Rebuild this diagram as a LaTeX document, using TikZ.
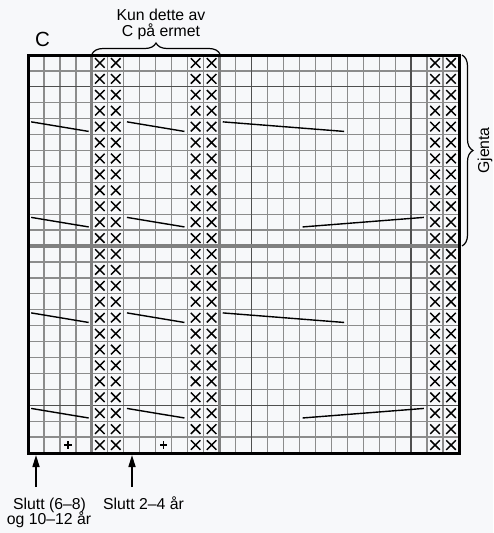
\documentclass[tikz,border=0pt]{standalone}
\usepackage{fontspec}
\setmainfont{Liberation Sans}
\usetikzlibrary{arrows.meta,decorations.pathreplacing}
\definecolor{bg}{RGB}{247,248,250}
\definecolor{thinc}{RGB}{140,140,140}
\definecolor{darkc}{RGB}{80,80,80}
\definecolor{thickc}{RGB}{128,128,128}
\begin{document}
\begin{tikzpicture}[x=1pt,y=-1pt,
 thinline/.style={draw=thinc,line width=1.3pt},
 darkline/.style={draw=darkc,line width=1.3pt},
 thickline/.style={draw=thickc,line width=3.2pt},
 border/.style={draw=black,line width=3pt,line join=miter},
 xmark/.style={draw=black,line width=1.45pt},
 plusmark/.style={draw=black,line width=1.6pt},
 slant/.style={draw=black,line width=1.4pt},
 lbl/.style={font=\fontsize{15.8}{16}\selectfont,inner sep=0pt},
 arr/.style={draw=black,line width=1.6pt,-{Triangle[width=7pt,length=12pt]}},
 bracestyle/.style={draw=black,line width=1.2pt,decorate,decoration={brace,amplitude=11pt}}]
\fill[bg] (0,0) rectangle (493,533);
\useasboundingbox (0,0) rectangle (493,533);
\begin{scope}[shift={(28,55)},x=15.963pt,y=-15.92pt]
 \foreach \i in {1,...,26} \draw[thinline] (\i,0) -- (\i,25);
 \foreach \j in {1,...,24} \draw[thinline] (0,\j) -- (27,\j);
 \foreach \i in {14,24} \draw[darkline] (\i,0) -- (\i,25);
 \foreach \j in {2,22} \draw[darkline] (0,\j) -- (27,\j);
 \draw[thickline] (0,12) -- (27,12);
 \foreach \i in {4,12} \draw[thickline] (\i,0) -- (\i,25);
 \foreach \c in {4,5,10,11,25,26} \foreach \r in {0,...,24} {
   \draw[xmark] (\c+0.2,\r+0.2) -- (\c+0.8,\r+0.8) (\c+0.2,\r+0.8) -- (\c+0.8,\r+0.2);
 }
 \foreach \c in {2,8} \draw[plusmark] (\c+0.27,24.5) -- (\c+0.73,24.5) (\c+0.5,24.27) -- (\c+0.5,24.73);
 \foreach \r in {4,10,16,22} {
   \draw[slant] (0.2,\r+0.2) -- (3.8,\r+0.8);
   \draw[slant] (6.2,\r+0.2) -- (9.8,\r+0.8);
 }
 \foreach \r in {4,16} \draw[slant] (12.2,\r+0.2) -- (19.8,\r+0.8);
 \foreach \r in {10,22} \draw[slant] (17.2,\r+0.8) -- (24.8,\r+0.2);
 \draw[border] (0,0) rectangle (27,25);
\end{scope}
\coordinate (tb1) at (92,54);
\coordinate (tb2) at (220,54);
\draw[bracestyle] (tb1) -- (tb2);
\coordinate (rb1) at (462,55);
\coordinate (rb2) at (462,246);
\draw[bracestyle] (rb1) -- (rb2);
\node[font=\fontsize{20.5}{22}\selectfont,inner sep=0pt,anchor=base] (C) at (42.5,46.7) {C};
\node[lbl,anchor=base] (kun1) at (161,20.7) {Kun dette av};
\node[lbl,anchor=base] (kun2) at (161,36.7) {C på ermet};
\node[lbl,anchor=base] (s1) at (49.5,509.3) {Slutt (6–8)};
\node[lbl,anchor=base] (s2) at (49,524) {og 10–12 år};
\node[lbl,anchor=base] (s3) at (143.5,509.3) {Slutt 2–4 år};
\node[lbl,rotate=90,anchor=base] (gj) at (489,150.5) {Gjenta};
\coordinate (a1s) at (36,487);
\coordinate (a1e) at (36,455);
\coordinate (a2s) at (132,487);
\coordinate (a2e) at (132,455);
\draw[arr] (a1s) -- (a1e);
\draw[arr] (a2s) -- (a2e);
\end{tikzpicture}
\end{document}
